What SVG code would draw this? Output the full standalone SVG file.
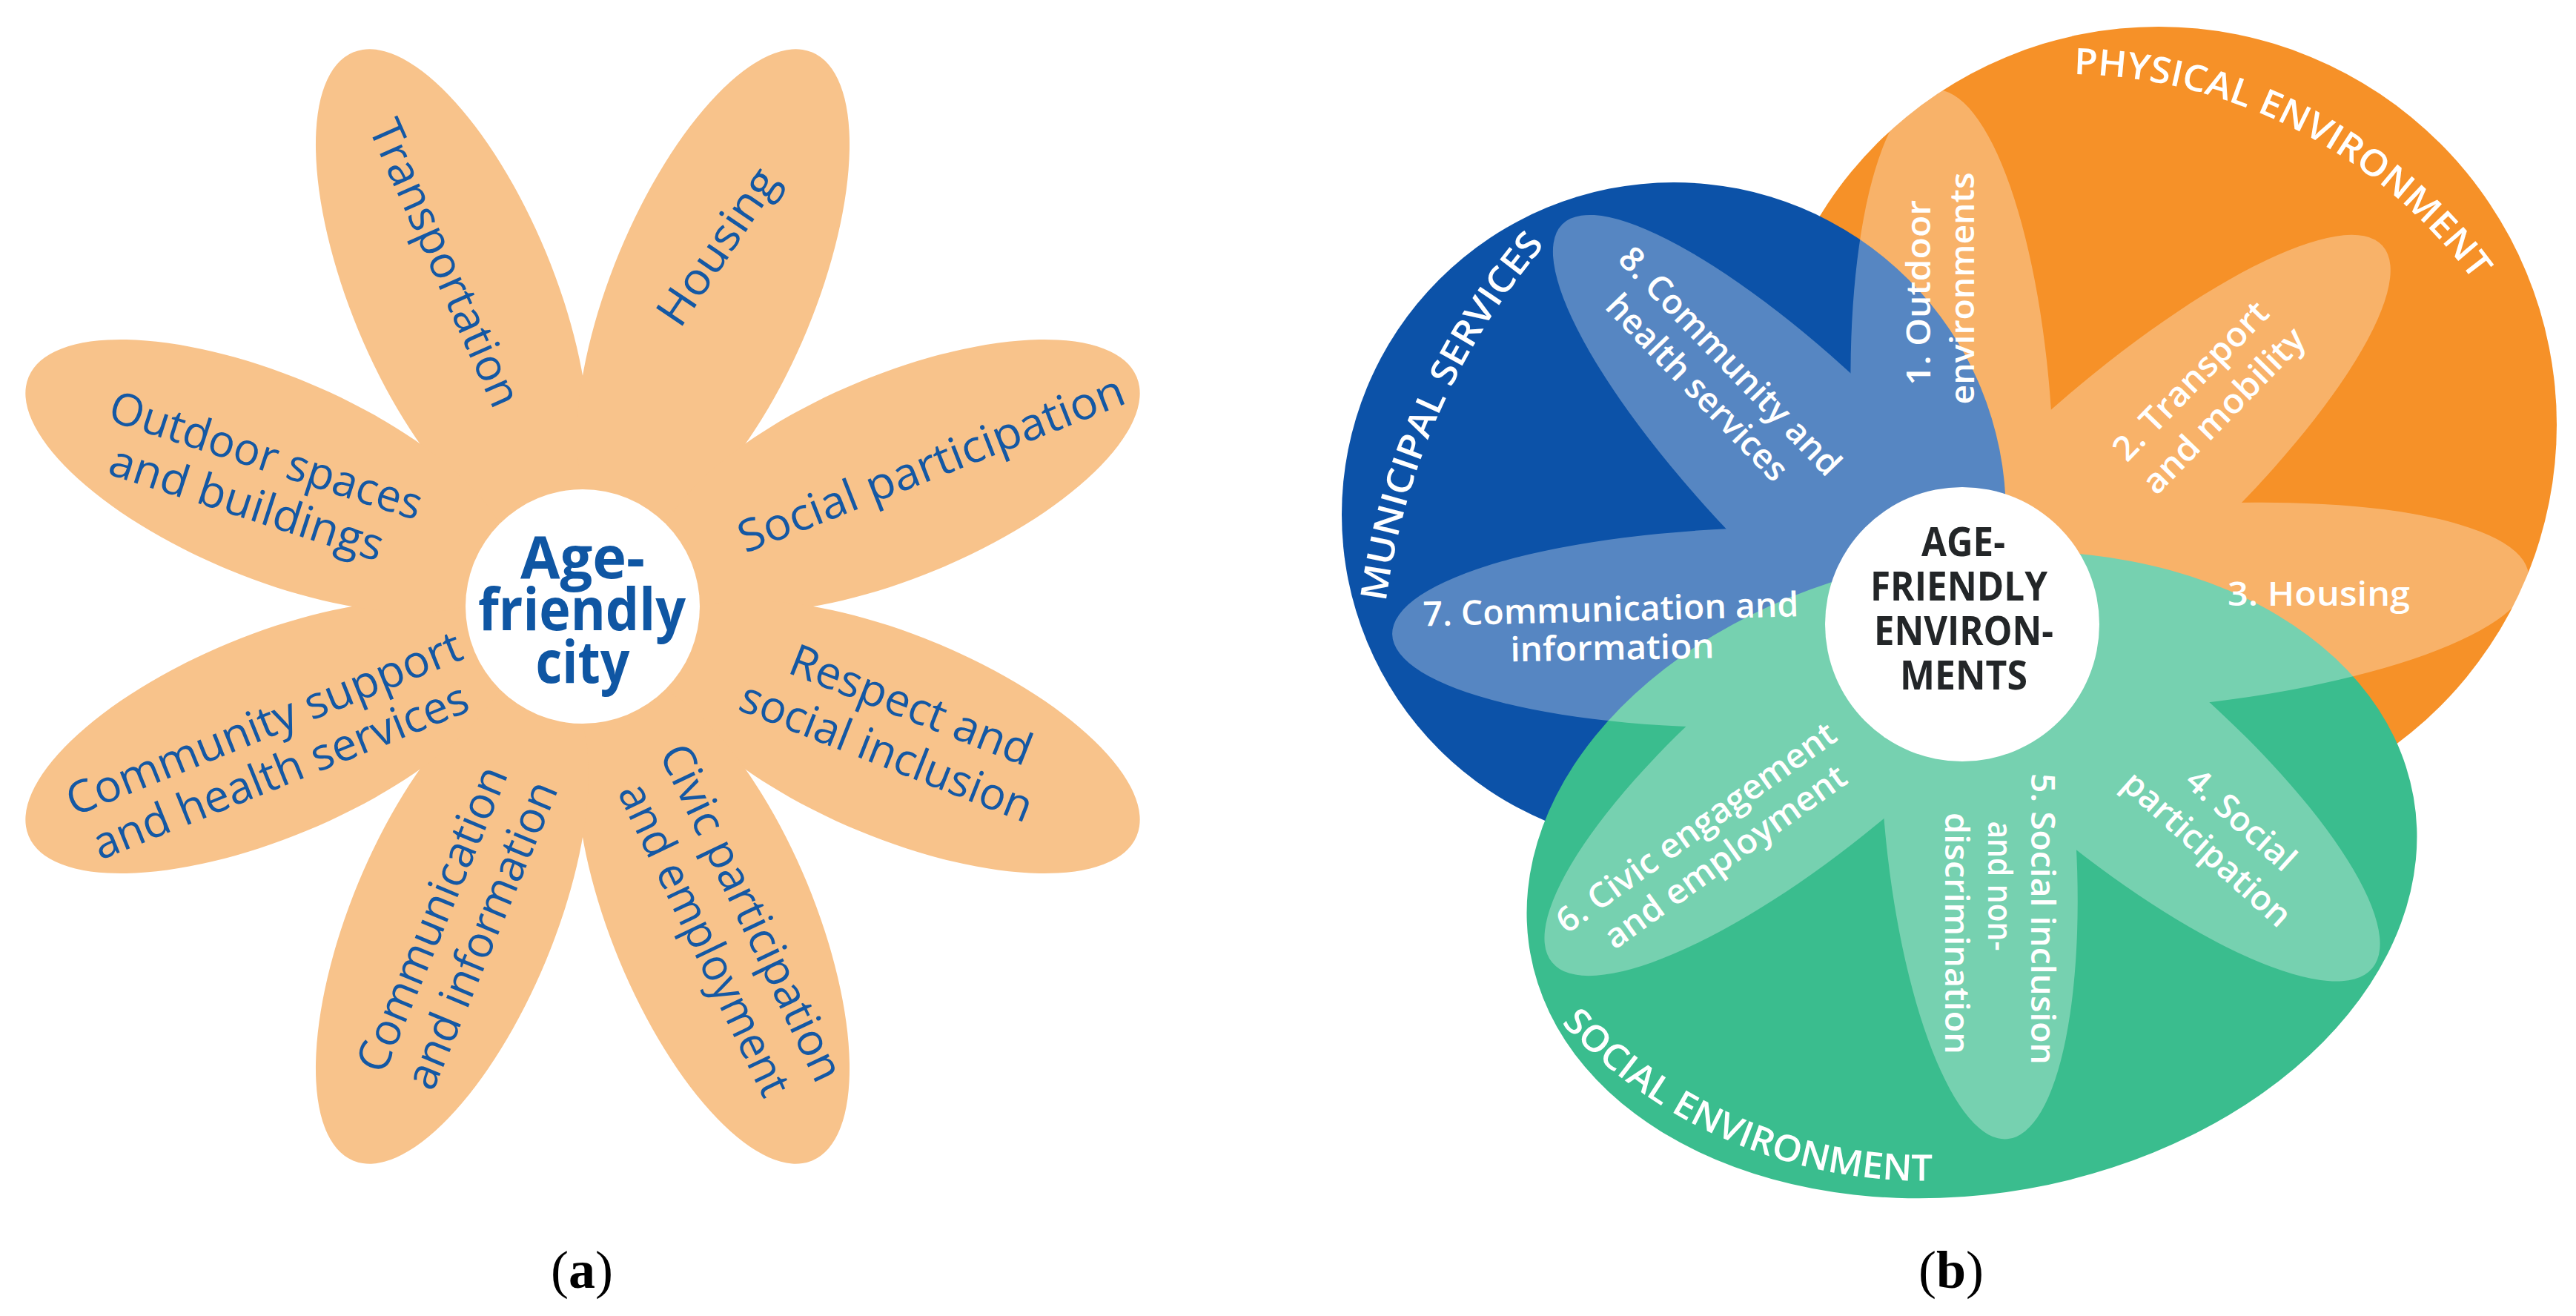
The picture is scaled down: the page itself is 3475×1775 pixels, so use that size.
<svg xmlns="http://www.w3.org/2000/svg" width="3475" height="1775" viewBox="0 0 3475 1775">
<style>
.bg{fill:#ffffff}
.pet-a{fill:#f8c38b}
.ta{font-family:"Open Sans","Liberation Sans",sans-serif;font-size:60px;fill:#1458a4;text-anchor:middle}
.ca{font-family:"Open Sans","Liberation Sans",sans-serif;font-size:78px;font-weight:700;fill:#0f56a3;text-anchor:middle}
.tb{font-family:"Open Sans","Liberation Sans",sans-serif;font-size:46px;font-weight:600;fill:#ffffff;text-anchor:middle}
.arc{font-family:"Open Sans","Liberation Sans",sans-serif;font-size:49px;font-weight:600;fill:#ffffff;text-anchor:middle}
.cb{font-family:"Open Sans","Liberation Sans",sans-serif;font-size:53px;font-weight:700;fill:#232628;text-anchor:middle}
.lbl{font-family:"Liberation Serif","Times New Roman",serif;font-size:72px;fill:#000000;text-anchor:middle}
</style>
<defs>
<ellipse id="petA" cx="460" cy="0" rx="349" ry="137"/>
<path id="arcMun" d="M 1866.6 1032.5 A 933 933 0 0 1 2246.1 180.2"/>
<path id="arcPhy" d="M 2754.4 100.7 A 683 683 0 0 1 3361.1 414.5"/>
<path id="arcSoc" d="M 2061.5 1326.5 A 668 668 0 0 0 2676.4 1587.5"/>
</defs>
<rect class="bg" x="0" y="0" width="3475" height="1775"/>

<!-- Panel (a) -->
<g id="a-petals" class="pet-a">
<circle cx="786" cy="818" r="250"/>
<use href="#petA" transform="translate(786 818) rotate(-112.5)"/>
<use href="#petA" transform="translate(786 818) rotate(-67.5)"/>
<use href="#petA" transform="translate(786 818) rotate(-22.5)"/>
<use href="#petA" transform="translate(786 818) rotate(22.5)"/>
<use href="#petA" transform="translate(786 818) rotate(67.5)"/>
<use href="#petA" transform="translate(786 818) rotate(112.5)"/>
<use href="#petA" transform="translate(786 818) rotate(157.5)"/>
<use href="#petA" transform="translate(786 818) rotate(202.5)"/>
</g>
<g id="a-center">
<circle cx="786" cy="818" r="158" fill="#ffffff"/>
<text class="ca" x="786" y="780" textLength="168" lengthAdjust="spacingAndGlyphs">Age-</text>
<text class="ca" x="785" y="850" textLength="280" lengthAdjust="spacingAndGlyphs">friendly</text>
<text class="ca" x="786" y="921" textLength="127" lengthAdjust="spacingAndGlyphs">city</text>
</g>
<g id="a-transportation">
<text class="ta" transform="translate(598 356) rotate(66)" dy="0.3em" textLength="417" lengthAdjust="spacingAndGlyphs">Transportation</text>
</g>
<g id="a-housing">
<text class="ta" transform="translate(970 334) rotate(-56)" dy="0.3em" textLength="242" lengthAdjust="spacingAndGlyphs">Housing</text>
</g>
<g id="a-social-participation">
<text class="ta" transform="translate(1257 628) rotate(-21.5)" dy="0.3em" textLength="555" lengthAdjust="spacingAndGlyphs">Social participation</text>
</g>
<g id="a-respect">
<text class="ta" transform="translate(1228 953.5) rotate(21.5)" dy="0.3em" textLength="346" lengthAdjust="spacingAndGlyphs">Respect and</text>
<text class="ta" transform="translate(1195 1016.7) rotate(21.5)" dy="0.3em" textLength="419" lengthAdjust="spacingAndGlyphs">social inclusion</text>
</g>
<g id="a-civic">
<text class="ta" transform="translate(1011.4 1232) rotate(64.5)" dy="0.3em" textLength="496" lengthAdjust="spacingAndGlyphs">Civic participation</text>
<text class="ta" transform="translate(948 1268) rotate(64.5)" dy="0.3em" textLength="460" lengthAdjust="spacingAndGlyphs">and employment</text>
</g>
<g id="a-communication">
<text class="ta" transform="translate(585 1240.6) rotate(-67.5)" dy="0.3em" textLength="440" lengthAdjust="spacingAndGlyphs">Communication</text>
<text class="ta" transform="translate(652 1262) rotate(-67.5)" dy="0.3em" textLength="443" lengthAdjust="spacingAndGlyphs">and information</text>
</g>
<g id="a-community">
<text class="ta" transform="translate(357 978) rotate(-22)" dy="0.3em" textLength="570" lengthAdjust="spacingAndGlyphs">Community support</text>
<text class="ta" transform="translate(379 1042.5) rotate(-22)" dy="0.3em" textLength="541" lengthAdjust="spacingAndGlyphs">and health services</text>
</g>
<g id="a-outdoor">
<text class="ta" transform="translate(358 617) rotate(18)" dy="0.3em" textLength="440" lengthAdjust="spacingAndGlyphs">Outdoor spaces</text>
<text class="ta" transform="translate(332 681) rotate(18)" dy="0.3em" textLength="385" lengthAdjust="spacingAndGlyphs">and buildings</text>
</g>

<!-- Panel (b) -->
<g id="b-physical">
<circle cx="2912" cy="573" r="537" fill="#f69128"/>
</g>
<g id="b-municipal">
<circle cx="2258" cy="694" r="448" fill="#0c52a8"/>
</g>
<g id="b-social">
<ellipse cx="2660" cy="1180" rx="605" ry="430" transform="rotate(-10 2660 1180)" fill="#3abd8e"/>
</g>
<g id="b-petals" fill="#ffffff" opacity="0.3">
<ellipse cx="260" cy="0" rx="462" ry="135" transform="translate(2647 842) rotate(-93)"/>
<ellipse cx="260" cy="0" rx="503" ry="135" transform="translate(2647 842) rotate(-42)"/>
<ellipse cx="260" cy="0" rx="507" ry="135" transform="translate(2647 842) rotate(-5)"/>
<ellipse cx="260" cy="0" rx="462" ry="135" transform="translate(2647 842) rotate(40)"/>
<ellipse cx="260" cy="0" rx="437" ry="128" transform="translate(2647 842) rotate(85)"/>
<ellipse cx="260" cy="0" rx="457" ry="135" transform="translate(2647 842) rotate(140.5)"/>
<ellipse cx="260" cy="0" rx="509" ry="135" transform="translate(2647 842) rotate(179)"/>
<ellipse cx="260" cy="0" rx="503" ry="135" transform="translate(2647 842) rotate(-135)"/>
</g>
<g id="b-labels-arc">
<text class="arc"><textPath href="#arcMun" startOffset="50%" textLength="535" lengthAdjust="spacingAndGlyphs">MUNICIPAL SERVICES</textPath></text>
<text class="arc"><textPath href="#arcPhy" startOffset="50%" textLength="629" lengthAdjust="spacingAndGlyphs">PHYSICAL ENVIRONMENT</textPath></text>
<text class="arc"><textPath href="#arcSoc" startOffset="50%" textLength="560" lengthAdjust="spacingAndGlyphs">SOCIAL ENVIRONMENT</textPath></text>
</g>
<g id="b-center">
<circle cx="2647" cy="842" r="185" fill="#ffffff"/>
<text class="cb" x="2648.5" y="750" textLength="113" lengthAdjust="spacingAndGlyphs">AGE-</text>
<text class="cb" x="2642.5" y="810" textLength="239" lengthAdjust="spacingAndGlyphs">FRIENDLY</text>
<text class="cb" x="2649" y="870" textLength="242" lengthAdjust="spacingAndGlyphs">ENVIRON-</text>
<text class="cb" x="2649" y="930" textLength="172" lengthAdjust="spacingAndGlyphs">MENTS</text>
</g>
<g id="b-p1">
<text class="tb" transform="translate(2590.5 395) rotate(-90)" dy="0.3em" textLength="250" lengthAdjust="spacingAndGlyphs">1. Outdoor</text>
<text class="tb" transform="translate(2649 389) rotate(-90)" dy="0.3em" textLength="313" lengthAdjust="spacingAndGlyphs">environments</text>
</g>
<g id="b-p2">
<text class="tb" transform="translate(2956.5 515) rotate(-45.8)" dy="0.3em" textLength="279" lengthAdjust="spacingAndGlyphs">2. Transport</text>
<text class="tb" transform="translate(3001 555) rotate(-45.8)" dy="0.3em" textLength="292" lengthAdjust="spacingAndGlyphs">and mobility</text>
</g>
<g id="b-p3">
<text class="tb" x="3128" y="803.6" dy="0.3em" textLength="246" lengthAdjust="spacingAndGlyphs">3. Housing</text>
</g>
<g id="b-p4">
<text class="tb" transform="translate(3022 1107) rotate(42)" dy="0.3em" textLength="181" lengthAdjust="spacingAndGlyphs">4. Social</text>
<text class="tb" transform="translate(2976 1146.5) rotate(42)" dy="0.3em" textLength="288" lengthAdjust="spacingAndGlyphs">participation</text>
</g>
<g id="b-p5">
<text class="tb" transform="translate(2754 1239.5) rotate(90)" dy="0.3em" textLength="393" lengthAdjust="spacingAndGlyphs">5. Social inclusion</text>
<text class="tb" transform="translate(2696 1195) rotate(90)" dy="0.3em" textLength="175" lengthAdjust="spacingAndGlyphs">and non-</text>
<text class="tb" transform="translate(2638 1259) rotate(90)" dy="0.3em" textLength="326" lengthAdjust="spacingAndGlyphs">discrimination</text>
</g>
<g id="b-p6">
<text class="tb" transform="translate(2289 1117.6) rotate(-35.6)" dy="0.3em" textLength="452" lengthAdjust="spacingAndGlyphs">6. Civic engagement</text>
<text class="tb" transform="translate(2328.4 1157) rotate(-35.6)" dy="0.3em" textLength="390" lengthAdjust="spacingAndGlyphs">and employment</text>
</g>
<g id="b-p7">
<text class="tb" transform="translate(2173 824) rotate(-1.5)" dy="0.3em" textLength="507" lengthAdjust="spacingAndGlyphs">7. Communication and</text>
<text class="tb" transform="translate(2175 876) rotate(-1)" dy="0.3em" textLength="275" lengthAdjust="spacingAndGlyphs">information</text>
</g>
<g id="b-p8">
<text class="tb" transform="translate(2332.5 488.5) rotate(46)" dy="0.3em" textLength="408" lengthAdjust="spacingAndGlyphs">8. Community and</text>
<text class="tb" transform="translate(2288 524) rotate(46)" dy="0.3em" textLength="330" lengthAdjust="spacingAndGlyphs">health services</text>
</g>

<!-- Panel labels -->
<g id="label-a"><text class="lbl" x="785" y="1737">(<tspan font-weight="700">a</tspan>)</text></g>
<g id="label-b"><text class="lbl" x="2632" y="1737">(<tspan font-weight="700">b</tspan>)</text></g>
</svg>
